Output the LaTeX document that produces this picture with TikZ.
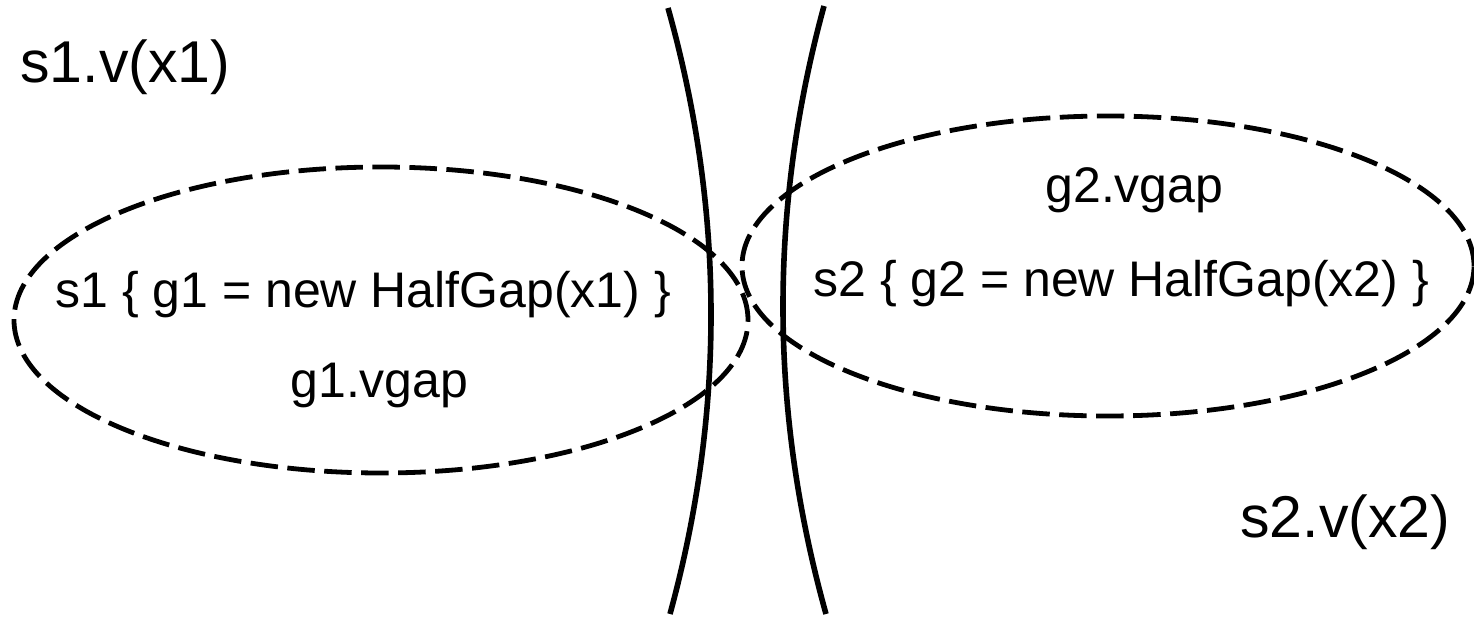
\documentclass[tikz,border=0pt]{standalone}
\usepackage{fontspec}
\setmainfont{Liberation Sans}
\begin{document}
\begin{tikzpicture}[x=0.5pt,y=-0.5pt,
  biglabel/.style={inner sep=0pt, anchor=base west, font=\fontsize{29.5}{34}\selectfont},
  smalllabel/.style={inner sep=0pt, anchor=base west, font=\fontsize{25}{30}\selectfont},
  scopeline/.style={line width=2.8pt, line cap=butt},
  regionline/.style={line width=2.4pt, dash pattern=on 13.75pt off 4.75pt}]
\useasboundingbox (0,0) rectangle (1474,620);
% two boundary curves
\coordinate (lt) at (668,8);
\coordinate (lb) at (670,614);
\coordinate (rt) at (824,6);
\coordinate (rb) at (826,614);
\draw[scopeline] (lt) .. controls (724.7,210) and (725.3,412) .. (lb);
\draw[scopeline] (rt) .. controls (768.7,208.7) and (769.3,411.3) .. (rb);
% dashed regions
\draw[regionline] (381,320) ellipse [x radius=183.5pt, y radius=76.5pt];
\draw[regionline] (1108,266) ellipse [x radius=183pt, y radius=75pt];
% labels
\node[biglabel] (s1v) at (20,83) {s1.v(x1)};
\node[smalllabel] (s1def) at (55,308) {s1 \{ g1 = new HalfGap(x1) \}};
\node[smalllabel] (g1v) at (290,398) {g1.vgap};
\node[smalllabel] (g2v) at (1045,203) {g2.vgap};
\node[smalllabel] (s2def) at (813,297) {s2 \{ g2 = new HalfGap(x2) \}};
\node[biglabel] (s2v) at (1240,538) {s2.v(x2)};
\end{tikzpicture}
\end{document}
